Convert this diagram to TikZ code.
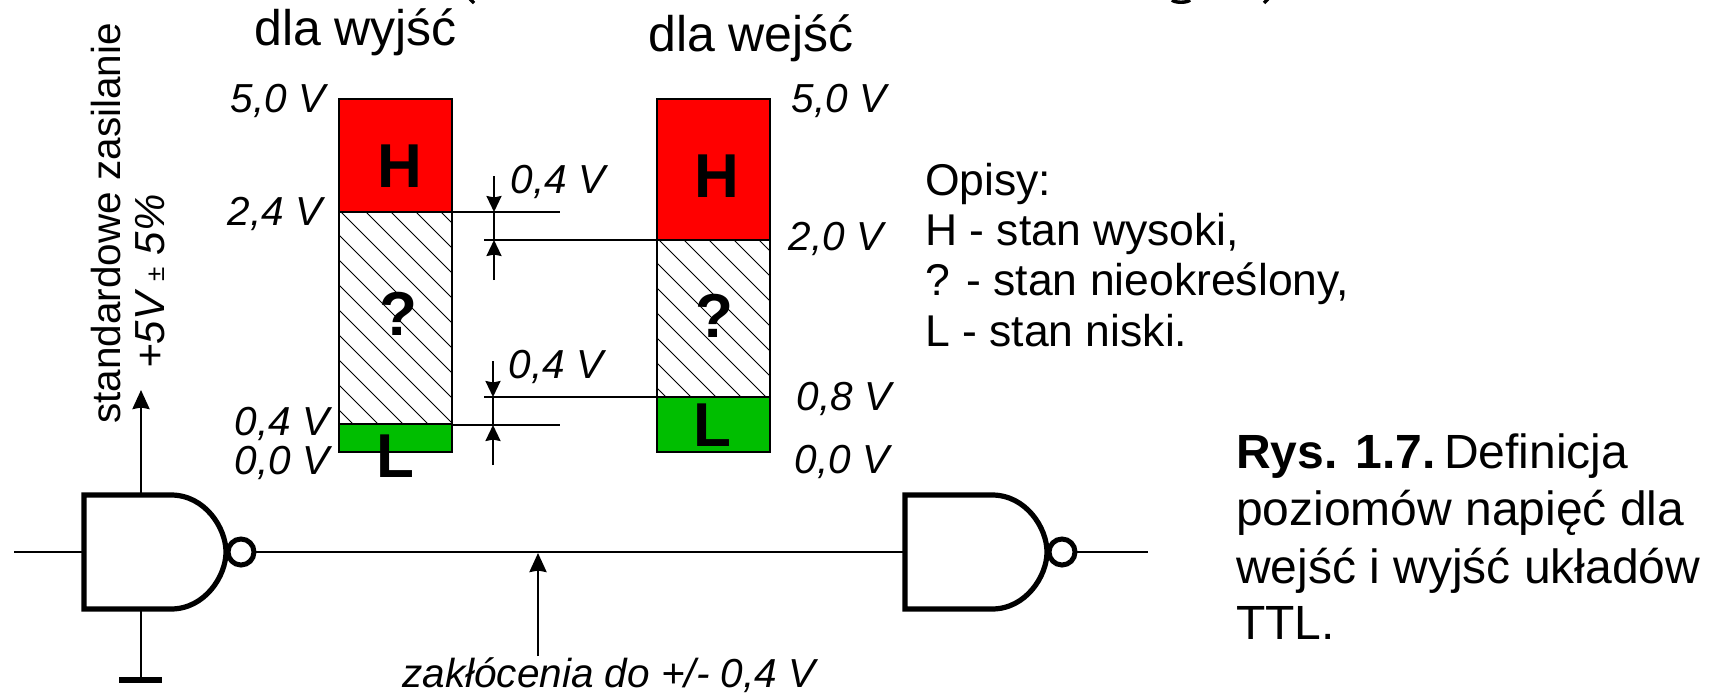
\documentclass[tikz,border=0pt]{standalone}
\usepackage{fontspec}
\setmainfont{Liberation Sans}
\usetikzlibrary{arrows.meta}
\usetikzlibrary{positioning}
\definecolor{stanh}{RGB}{255,0,0}
\definecolor{stanl}{RGB}{0,190,0}
\tikzset
    { txt/.style={inner sep=0pt, anchor=base west, font=\fontsize{48}{48}\selectfont}
    , opis/.style={txt, font=\fontsize{44.5}{44.5}\selectfont}
    , tytul/.style={txt, font=\fontsize{50}{50}\selectfont}
    , volt/.style={inner sep=0pt, anchor=base, font=\fontsize{40.5}{40.5}\selectfont\itshape}
    , sym/.style={inner sep=0pt, font=\fontsize{62}{62}\selectfont\bfseries}
    , strzalka/.style={line width=2.2pt, -{Stealth[length=16pt,width=15pt,inset=1.5pt]}}
    , duza/.style={line width=2.6pt, -{Stealth[length=19pt,width=17pt,inset=1.5pt]}}
    , cienka/.style={line width=1.8pt}
    , linia/.style={line width=2.6pt}
    , bramka/.style={line width=5.2pt, fill=white}
    , negacja/.style={circle, draw, line width=5pt, fill=white, minimum size=26pt, inner sep=0pt}
    , resztka/.style={line width=3.4pt}
    }
\newcommand{\slupek}[5]{%
    % x, y gornej granicy, y stanu H, y stanu L, y dolnej granicy
    \fill[stanh] (#1,#2) rectangle (#1+113,#3);
    \fill[stanl] (#1,#4) rectangle (#1+113,#5);
    \begin{scope}
        \clip (#1,#3) rectangle (#1+113,#4);
        \foreach \d in {-373,-348,...,127}
            \draw[line width=.9pt] (#1+\d,#3) -- ++(320,-320);
    \end{scope}
    \draw[line width=2pt] (#1,#2) rectangle (#1+113,#5);
    \draw[line width=2pt] (#1,#3) -- (#1+113,#3);
    \draw[line width=2pt] (#1,#4) -- (#1+113,#4);
}
\newcommand{\bramkanand}[2]{%
    % x lewej krawedzi, y osi
    \draw[bramka] (#1,#2+57) -- (#1+87,#2+57)
        .. controls (#1+121,#2+57) and (#1+142,#2+24) .. (#1+142,#2)
        .. controls (#1+142,#2-24) and (#1+121,#2-57) .. (#1+87,#2-57)
        -- (#1,#2-57) -- cycle;
}
\begin{document}
\begin{tikzpicture}[x=1pt, y=1pt]
    \useasboundingbox (0,-693) rectangle (1711,0);
    % resztki ucietego tytulu
    \draw[resztka] (470,1) -- (474,-3);
    \draw[resztka] (1172,0) .. controls (1175,-3) and (1187,-3) .. (1190,0);
    \draw[resztka] (1268,1) -- (1264,-3);
    % slupki
    \slupek{339}{-99}{-212}{-424}{-452}
    \slupek{657}{-99}{-240}{-397}{-452}
    \node[sym] (h1) at (400,-166) {H};
    \node[sym] (q1) at (398,-314) {?};
    \node[sym] (l1) at (395,-456) {L};
    \node[sym] (h2) at (717,-176) {H};
    \node[sym] (q2) at (714,-316) {?};
    \node[sym] (l2) at (712,-425) {L};
    % naglowki
    \node[tytul] (wy) at (254,-46) {dla wyjść};
    \node[tytul] (we) at (648,-52) {dla wejść};
    % napiecia
    \node[volt] (a1) at (278,-112) {5,0 V};
    \node[volt] (a2) at (275,-225) {2,4 V};
    \node[volt] (a3) at (282,-435) {0,4 V};
    \node[volt] (a4) at (282,-474) {0,0 V};
    \node[volt] (b1) at (839,-112) {5,0 V};
    \node[volt] (b2) at (836,-250) {2,0 V};
    \node[volt] (b3) at (844,-410) {0,8 V};
    \node[volt] (b4) at (842,-473) {0,0 V};
    \node[volt] (c1) at (558,-193) {0,4 V};
    \node[volt] (c2) at (556,-378) {0,4 V};
    % linie pomocnicze
    \coordinate (p1) at (452,-212);
    \coordinate (k1) at (560,-212);
    \coordinate (p2) at (484,-240);
    \coordinate (k2) at (657,-240);
    \coordinate (p3) at (484,-397);
    \coordinate (k3) at (657,-397);
    \coordinate (p4) at (452,-425);
    \coordinate (k4) at (560,-425);
    \draw[cienka] (p1) -- (k1);
    \draw[cienka] (p2) -- (k2);
    \draw[cienka] (p3) -- (k3);
    \draw[cienka] (p4) -- (k4);
    \coordinate (s1) at (494,-176);
    \coordinate (t1) at (494,-212);
    \coordinate (s2) at (494,-280);
    \coordinate (t2) at (494,-240);
    \coordinate (s3) at (493,-361);
    \coordinate (t3) at (493,-397);
    \coordinate (s4) at (493,-465);
    \coordinate (t4) at (493,-425);
    \draw[strzalka] (s1) -- (t1);
    \draw[strzalka] (s2) -- (t2);
    \draw[strzalka] (s3) -- (t3);
    \draw[strzalka] (s4) -- (t4);
    \draw[line width=2.2pt] (t1) -- (t2);
    \draw[line width=2.2pt] (t3) -- (t4);
    % bramki
    \coordinate (we1) at (14,-552);
    \coordinate (wy2) at (1148,-552);
    \coordinate (zas) at (141,-390);
    \coordinate (mas) at (141,-680);
    \coordinate (zak) at (538,-656);
    \coordinate (lin) at (538,-553);
    \draw[linia] (we1) -- (85,-552);
    \draw[linia] (254,-552) -- (906,-552);
    \draw[linia] (1074,-552) -- (wy2);
    \draw[linia] (141,-609) -- (mas);
    \draw[duza] (141,-494) -- (zas);
    \draw[duza] (zak) -- (lin);
    \draw[line width=6pt] (119,-680) -- (162,-680);
    \bramkanand{84}{-552}
    \bramkanand{905}{-552}
    \node[negacja] (n1) at (241,-552) {};
    \node[negacja] (n2) at (1062,-552) {};
    % opisy
    \node[volt, rotate=90, anchor=base west, font=\fontsize{40.5}{40.5}\selectfont] (z1) at (120,-424) {standardowe zasilanie};
    \node[volt, rotate=90, anchor=base west, font=\fontsize{42}{42}\selectfont\itshape] (z2) at (164,-369) {+5V {\fontsize{26}{26}\selectfont\upshape ±} 5\%};
    \node[volt] (z3) at (609,-687) {zakłócenia do +/- 0,4 V};
    \node[opis] (o1) at (925,-195) {Opisy:};
    \node[opis] (o2) at (925,-245) {H - stan wysoki,};
    \node[opis] (o3) at (925,-295) {? - stan nieokreślony,};
    \node[opis] (o4) at (925,-346) {L - stan niski.};
    \node[txt] (r1) at (1236,-468) {\textbf{Rys. 1.7.}\hspace{-9pt} Definicja};
    \node[txt] (r2) at (1236,-525) {poziomów napięć dla};
    \node[txt] (r3) at (1236,-583) {wejść i wyjść układów};
    \node[txt] (r4) at (1236,-639) {TTL.};
\end{tikzpicture}
\end{document}
